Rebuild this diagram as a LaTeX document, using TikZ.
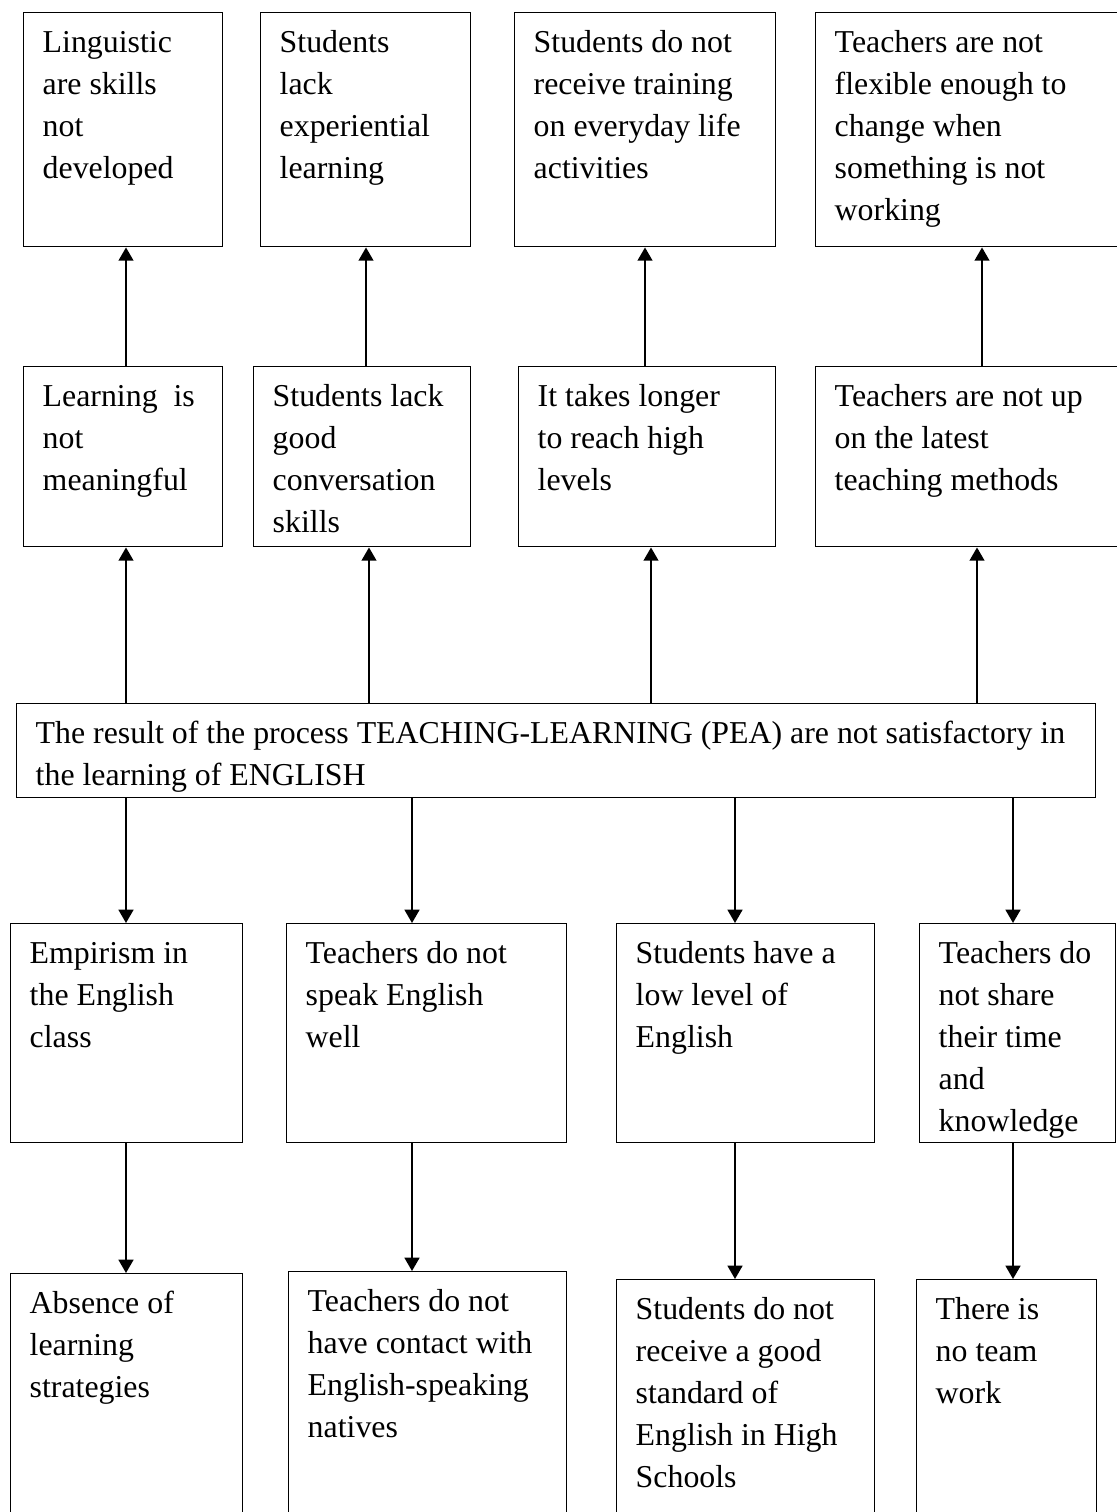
\documentclass[tikz,border=0pt]{standalone}
\usepackage{fontspec}
\setmainfont{Liberation Serif}
\usetikzlibrary{arrows.meta}
\newcommand{\unitpx}{0.3768pt}

\begin{document}
\begin{tikzpicture}[
    x=\unitpx, y=-\unitpx,
    tbox/.style 2 args={draw, line width=0.55pt, anchor=north west,
                        inner xsep=19*\unitpx, inner ysep=0pt,
                        text width=(#1-38)*\unitpx,
                        text height=40*\unitpx, text depth=(#2-40)*\unitpx,
                        align=flush left, font=\fontsize{12pt}{15.8pt}\selectfont},
    arr/.style={-{Triangle[length=5pt, width=5.6pt]}, line width=0.65pt},
  ]
  \useasboundingbox (0,0) rectangle (1117,1512);

  % Effects (top row)
  \node[tbox={199}{234}] (a1) at (23,12) {Linguistic\\are skills\\not\\developed};
  \node[tbox={210}{234}] (a2) at (260,12) {Students\\lack\\experiential\\learning};
  \node[tbox={261}{234}] (a3) at (514,12) {Students do not\\receive training\\on everyday life\\activities};
  \node[tbox={334}{234}] (a4) at (815,12) {Teachers are not\\flexible enough to\\change when\\something is not\\working};

  % Effects (second row)
  \node[tbox={199}{180}] (b1) at (23,366) {Learning \ is\\not\\meaningful};
  \node[tbox={217}{180}] (b2) at (253,366) {Students lack\\good\\conversation\\skills};
  \node[tbox={257}{180}] (b3) at (518,366) {It takes longer\\to reach high\\levels};
  \node[tbox={330}{180}] (b4) at (815,366) {Teachers are not up\\on the latest\\teaching methods};

  % Problem
  \node[tbox={1079}{94}] (cen) at (16,703)
    {The result of the process TEACHING-LEARNING (PEA) are not satisfactory in\\the learning of ENGLISH};

  % Causes
  \node[tbox={232}{219}] (c1) at (10,923) {Empirism in\\the English\\class};
  \node[tbox={280}{219}] (c2) at (286,923) {Teachers do not\\speak English\\well};
  \node[tbox={258}{219}] (c3) at (616,923) {Students have a\\low level of\\English};
  \node[tbox={196}{219}] (c4) at (919,923) {Teachers do\\not share\\their time\\and\\knowledge};

  % Root causes
  \node[tbox={232}{257}] (d1) at (10,1273) {Absence of\\learning\\strategies};
  \node[tbox={278}{259}] (d2) at (288,1271) {Teachers do not\\have contact with\\English-speaking\\natives};
  \node[tbox={258}{251}] (d3) at (616,1279) {Students do not\\receive a good\\standard of\\English in High\\Schools};
  \node[tbox={180}{251}] (d4) at (916,1279) {There is\\no team\\work};

  % Arrows
  \foreach \src/\dst/\x in {b1/a1/126, b2/a2/366, b3/a3/645, b4/a4/982,
                            cen/b1/126, cen/b2/369, cen/b3/651, cen/b4/977}
    \draw[arr] (\src.north -| \x,0) -- (\dst.south -| \x,0);
  \foreach \src/\dst/\x in {cen/c1/126, cen/c2/412, cen/c3/735, cen/c4/1013,
                            c1/d1/126, c2/d2/412, c3/d3/735, c4/d4/1013}
    \draw[arr] (\src.south -| \x,0) -- (\dst.north -| \x,0);
\end{tikzpicture}
\end{document}
